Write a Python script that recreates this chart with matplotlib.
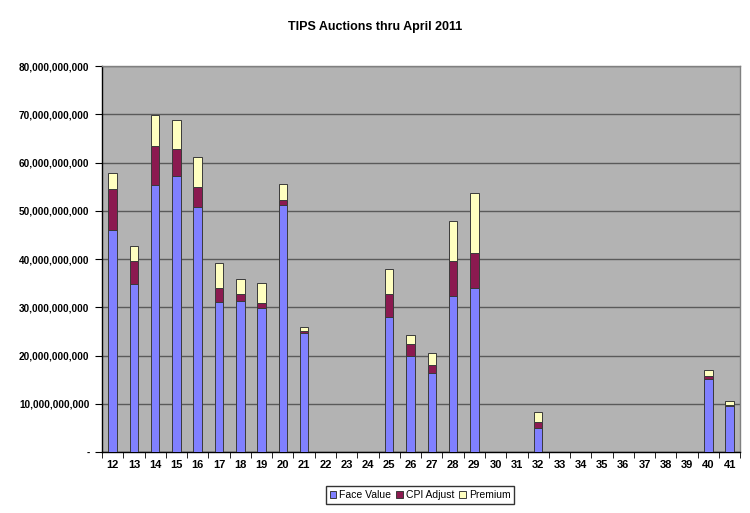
import matplotlib
matplotlib.use("Agg")
import matplotlib.pyplot as plt
import numpy as np
from matplotlib.ticker import FuncFormatter, MultipleLocator

plt.rcParams['font.family'] = ['Liberation Sans', 'DejaVu Sans']

categories = [str(c) for c in range(12, 42)]
face_value = [46.1, 34.9, 55.3, 57.3, 50.9, 31.1, 31.3, 29.9, 51.3, 24.7,
              0, 0, 0, 27.9, 19.9, 16.4, 32.4, 33.9, 0, 0,
              4.9, 0, 0, 0, 0, 0, 0, 0, 15.2, 9.5]
cpi_adjust = [8.5, 4.8, 8.2, 5.6, 4.0, 2.8, 1.5, 0.9, 0.9, 0.4,
              0, 0, 0, 4.9, 2.4, 1.6, 7.2, 7.3, 0, 0,
              1.4, 0, 0, 0, 0, 0, 0, 0, 0.5, 0.25]
premium = [3.2, 3.1, 6.4, 6.0, 6.3, 5.3, 3.0, 4.2, 3.4, 0.9,
           0, 0, 0, 5.1, 2.0, 2.5, 8.2, 12.4, 0, 0,
           2.0, 0, 0, 0, 0, 0, 0, 0, 1.3, 0.75]

scale = 1e9
face = np.array(face_value) * scale
cpi = np.array(cpi_adjust) * scale
prem = np.array(premium) * scale

fig = plt.figure(figsize=(7.5, 5.13), dpi=100)
fig.patch.set_facecolor('white')
ax = fig.add_axes([0.136, 0.119, 0.851, 0.752])
ax.set_facecolor('#b3b3b3')

x = np.arange(len(categories))
w = 0.4
edge = '#3a3a3a'
lw = 0.7
b1 = ax.bar(x, face, w, color='#8080ff', edgecolor=edge, linewidth=lw, label='Face Value', zorder=3)
b2 = ax.bar(x, cpi, w, bottom=face, color='#8b1a50', edgecolor=edge, linewidth=lw, label='CPI Adjust', zorder=3)
b3 = ax.bar(x, prem, w, bottom=face + cpi, color='#ffffc0', edgecolor=edge, linewidth=lw, label='Premium', zorder=3)

ax.set_xlim(-0.5, len(categories) - 0.5)
ax.set_ylim(0, 80e9)
ax.yaxis.set_major_locator(MultipleLocator(10e9))
ax.yaxis.set_major_formatter(FuncFormatter(lambda v, p: '-' if abs(v) < 1 else f'{v:,.0f}'))
ax.grid(axis='y', color='#5a5a5a', linewidth=1.0, zorder=1)
ax.set_axisbelow(True)

ax.set_xticks(x)
ax.set_xticklabels(categories, fontsize=8, fontweight='bold')
ax.tick_params(axis='x', length=0, pad=6)
ax.set_xticks(np.arange(-0.5, len(categories) + 0.5, 1), minor=True)
ax.tick_params(axis='x', which='minor', length=4, direction='out', color='black')
ax.tick_params(axis='y', length=5, direction='out', labelsize=7.2, pad=4)
for lab in ax.get_yticklabels():
    lab.set_fontweight('bold')

for s in ['left', 'bottom']:
    ax.spines[s].set_color('black')
    ax.spines[s].set_linewidth(1.0)
for s in ['top', 'right']:
    ax.spines[s].set_color('#808080')
    ax.spines[s].set_linewidth(1.0)

fig.text(0.5, 0.948, 'TIPS Auctions thru April 2011', ha='center', va='center',
         fontsize=9, fontweight='bold')

leg = fig.legend(handles=[b1, b2, b3], loc='center', bbox_to_anchor=(0.560, 0.035),
                 ncol=3, fontsize=7.5, frameon=True, fancybox=False, edgecolor='black',
                 handlelength=0.6, handleheight=0.6, handletextpad=0.3, columnspacing=0.5,
                 borderpad=0.4)
leg.get_frame().set_linewidth(1.0)

fig.savefig('out.png', dpi=100)
